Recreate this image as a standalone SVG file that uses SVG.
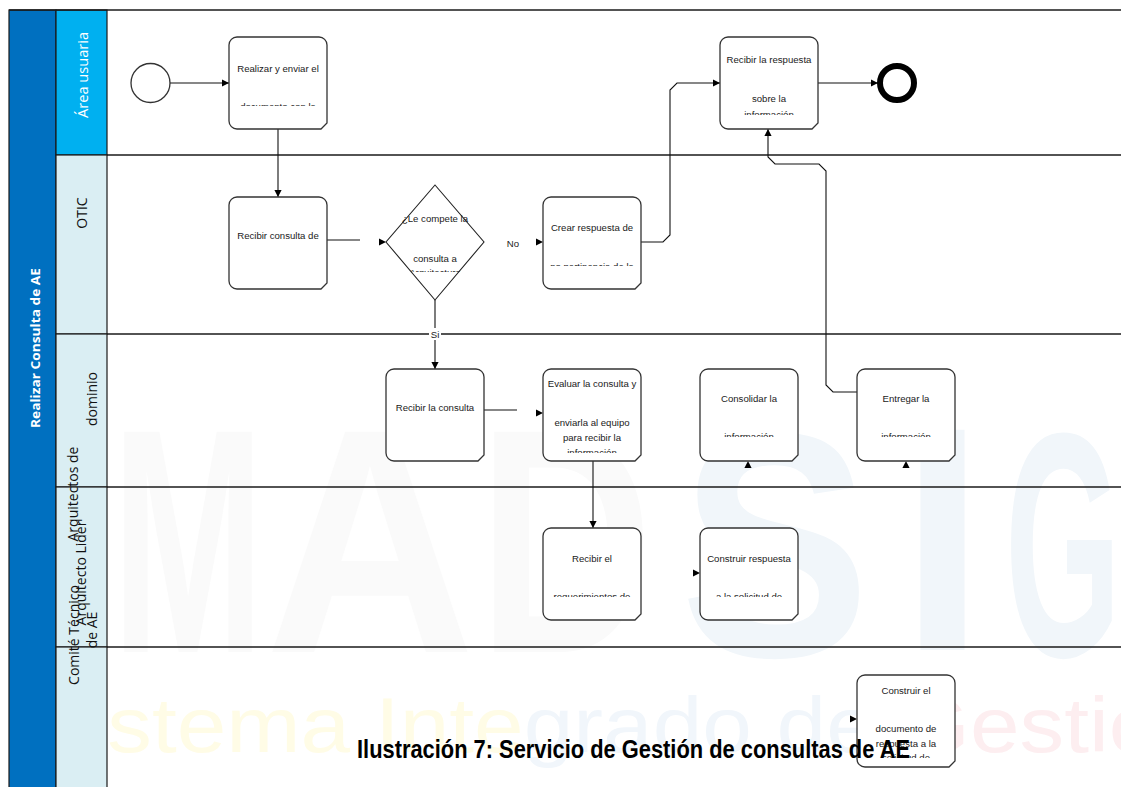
<svg xmlns="http://www.w3.org/2000/svg" xmlns:xlink="http://www.w3.org/1999/xlink" width="1121" height="787" viewBox="0 0 1121 787">
<style>
.lane-line{stroke:#1a1a1a;stroke-width:1.5;fill:none}
.conn{stroke:#111;stroke-width:1.1;fill:none}
.box{fill:#fff;stroke:#333;stroke-width:1.3}
.t{font-family:"Liberation Sans",Arial,sans-serif;font-size:9.6px;fill:#1a1a1a;text-anchor:middle}
.lbl{font-family:"Open Sans","Noto Sans",sans-serif;font-size:14px;text-anchor:middle;fill:#111}
.wm{font-family:"Liberation Sans",Arial,sans-serif;font-weight:bold}
.wm2{font-family:"Liberation Sans",Arial,sans-serif}
.ah{fill:#000}
</style>
<defs>
<path id="task" d="M8,0 H90 A8,8 0 0 1 98,8 V86 L92,92 H8 A8,8 0 0 1 0,84 V8 A8,8 0 0 1 8,0 Z"/>
<path id="ahead" d="M-7,-3.6 L0,0 L-7,3.6 Z"/>
<marker id="arr" markerWidth="8" markerHeight="8" refX="7" refY="3.6" orient="auto" markerUnits="userSpaceOnUse">
<path d="M0,0 L7,3.6 L0,7.2 Z" fill="#000"/>
</marker>
<clipPath id="c1"><rect x="229" y="37" width="98" height="69"/></clipPath>
<clipPath id="c3"><rect x="543" y="197" width="98" height="69"/></clipPath>
<clipPath id="c4"><rect x="720" y="37" width="98" height="78"/></clipPath>
<clipPath id="cd"><rect x="370" y="185" width="130" height="87"/></clipPath>
<clipPath id="c6"><rect x="543" y="369" width="98" height="84"/></clipPath>
<clipPath id="c7"><rect x="543" y="528" width="98" height="69"/></clipPath>
<clipPath id="c8"><rect x="700" y="528" width="98" height="69"/></clipPath>
<clipPath id="c9"><rect x="700" y="369" width="98" height="68"/></clipPath>
<clipPath id="c10"><rect x="857" y="369" width="98" height="68"/></clipPath>
<clipPath id="c11"><rect x="857" y="675" width="98" height="83"/></clipPath>
<clipPath id="cpage"><rect x="0" y="0" width="1121" height="787"/></clipPath>
</defs>
<rect x="0" y="0" width="1121" height="787" fill="#fff"/>

<g id="watermark" clip-path="url(#cpage)">
<text class="wm" x="112" y="652" font-size="320" fill="#FAFAFA" textLength="152" lengthAdjust="spacingAndGlyphs">M</text>
<text class="wm" x="265" y="652" font-size="320" fill="#FAFAFA" textLength="210" lengthAdjust="spacingAndGlyphs">A</text>
<text class="wm" x="478" y="652" font-size="320" fill="#FAFAFA" textLength="175" lengthAdjust="spacingAndGlyphs">D</text>
<text class="wm" x="680" y="656" font-size="320" fill="#F1F6FA" textLength="190" lengthAdjust="spacingAndGlyphs">S</text>
<text class="wm" x="900" y="650" font-size="320" fill="#F1F6FA" textLength="85" lengthAdjust="spacingAndGlyphs">I</text>
<text class="wm" x="1005" y="656" font-size="320" fill="#F1F6FA" textLength="116" lengthAdjust="spacingAndGlyphs">G</text>
<text class="wm2" x="28" y="752" font-size="78" textLength="1180" lengthAdjust="spacingAndGlyphs"><tspan fill="#FFFCE6">Sistema Inte</tspan><tspan fill="#F1F6FB">grado de </tspan><tspan fill="#FDEEF0">Gestión</tspan></text>
</g>

<g id="pool">
<rect x="9" y="10" width="47" height="790" fill="#0070C0" stroke="#1a1a1a" stroke-width="1.2"/>
<rect x="56" y="10" width="51" height="145" fill="#00B0F0" stroke="#1a1a1a" stroke-width="1.2"/>
<rect x="56" y="155" width="51" height="179" fill="#DAEEF3" stroke="#1a1a1a" stroke-width="1.2"/>
<rect x="56" y="334" width="51" height="153" fill="#DAEEF3" stroke="#1a1a1a" stroke-width="1.2"/>
<rect x="56" y="487" width="51" height="160" fill="#DAEEF3" stroke="#1a1a1a" stroke-width="1.2"/>
<rect x="56" y="647" width="51" height="150" fill="#DAEEF3" stroke="#1a1a1a" stroke-width="1.2"/>
<line class="lane-line" x1="9" y1="10" x2="1121" y2="10"/>
<line class="lane-line" x1="107" y1="155" x2="1121" y2="155"/>
<line class="lane-line" x1="107" y1="334" x2="1121" y2="334"/>
<line class="lane-line" x1="107" y1="487" x2="1121" y2="487"/>
<line class="lane-line" x1="107" y1="647" x2="1121" y2="647"/>
<text transform="translate(39.5,348) rotate(-90)" font-family="'Open Sans','Noto Sans',sans-serif" font-weight="bold" font-size="13.2" fill="#fff" text-anchor="middle" textLength="160" lengthAdjust="spacingAndGlyphs">Realizar Consulta de AE</text>
<text class="lbl" transform="translate(88,75) rotate(-90)" style="fill:#fff;font-size:14.6px">Área usuaria</text>
<text class="lbl" transform="translate(87,213) rotate(-90)">OTIC</text>
<text class="lbl" transform="translate(97,399) rotate(-90)">dominio</text>
<text class="lbl" transform="translate(78,494) rotate(-90)">Arquitectos de</text>
<text class="lbl" transform="translate(86,573) rotate(-90)">Arquitecto Lider</text>
<text class="lbl" transform="translate(79,635) rotate(-90)">Comité Técnico</text>
<text class="lbl" transform="translate(97,630) rotate(-90)">de AE</text>
</g>

<g id="connectors">
<path class="conn" d="M170,83 H229" marker-end="url(#arr)"/>
<path class="conn" d="M278,129 V197" marker-end="url(#arr)"/>
<path class="conn" d="M327,240 H360"/>
<use href="#ahead" class="ah" transform="translate(386,242)"/>
<use href="#ahead" class="ah" transform="translate(543,242)"/>
<path class="conn" d="M640,242 H663 L670,235 V90 L677,83 H720" marker-end="url(#arr)"/>
<path class="conn" d="M818,83 H878" marker-end="url(#arr)"/>
<path class="conn" d="M435,300 V369" marker-end="url(#arr)"/>
<rect x="429" y="328" width="12" height="12" fill="#fff"/>
<text class="t" x="435" y="337.5" font-size="9">Si</text>
<text class="t" x="513" y="246.5">No</text>
<path class="conn" d="M484,410 H517"/>
<use href="#ahead" class="ah" transform="translate(543,413)"/>
<path class="conn" d="M593,460 V528" marker-end="url(#arr)"/>
<use href="#ahead" class="ah" transform="translate(700,573)"/>
<use href="#ahead" class="ah" transform="translate(748,461) rotate(-90)"/>
<use href="#ahead" class="ah" transform="translate(906,461) rotate(-90)"/>
<path class="conn" d="M857,392 H833 L826,385 V171 L819,164 H775 L768,157 V129" marker-end="url(#arr)"/>
<use href="#ahead" class="ah" transform="translate(857,719)"/>
</g>

<g id="start"><ellipse cx="150.5" cy="83" rx="19.5" ry="19.5" class="box"/></g>
<g id="end"><circle cx="897" cy="83" r="17" fill="#fff" stroke="#000" stroke-width="6"/></g>

<g id="n1"><use href="#task" x="229" y="37" class="box"/>
<g clip-path="url(#c1)"><text class="t" x="278" y="71.5">Realizar y enviar el</text><text class="t" x="278" y="110">documento con la</text></g></g>

<g id="n2"><use href="#task" x="229" y="197" class="box"/>
<text class="t" x="278" y="238.5">Recibir consulta de</text></g>

<g id="n3"><path d="M435,185 L484,242 L435,300 L386,242 Z" class="box" style="stroke:#222;stroke-width:1.1"/>
<g clip-path="url(#cd)"><text class="t" x="435" y="222">¿Le compete la</text><text class="t" x="435" y="262">consulta a</text><text class="t" x="435" y="276">Arquitectura</text></g></g>

<g id="n4"><use href="#task" x="543" y="197" class="box"/>
<g clip-path="url(#c3)"><text class="t" x="592" y="231">Crear respuesta de</text><text class="t" x="592" y="270">no pertinencia de la</text></g></g>

<g id="n5"><use href="#task" x="720" y="37" class="box"/>
<g clip-path="url(#c4)"><text class="t" x="769" y="62.5">Recibir la respuesta</text><text class="t" x="769" y="102">sobre la</text><text class="t" x="769" y="118">información</text></g></g>

<g id="n6"><use href="#task" x="386" y="369" class="box"/>
<text class="t" x="435" y="411">Recibir la consulta</text></g>

<g id="n7"><use href="#task" x="543" y="369" class="box"/>
<g clip-path="url(#c6)"><text class="t" x="592" y="387">Evaluar la consulta y</text><text class="t" x="592" y="426">enviarla al equipo</text><text class="t" x="592" y="441">para recibir la</text><text class="t" x="592" y="456">información</text></g></g>

<g id="n8"><use href="#task" x="700" y="369" class="box"/>
<g clip-path="url(#c9)"><text class="t" x="749" y="402">Consolidar la</text><text class="t" x="749" y="440">información</text></g></g>

<g id="n9"><use href="#task" x="857" y="369" class="box"/>
<g clip-path="url(#c10)"><text class="t" x="906" y="402">Entregar la</text><text class="t" x="906" y="440">información</text></g></g>

<g id="n10"><use href="#task" x="543" y="528" class="box"/>
<g clip-path="url(#c7)"><text class="t" x="592" y="562">Recibir el</text><text class="t" x="592" y="600">requerimientos de</text></g></g>

<g id="n11"><use href="#task" x="700" y="528" class="box"/>
<g clip-path="url(#c8)"><text class="t" x="749" y="562">Construir respuesta</text><text class="t" x="749" y="600">a la solicitud de</text></g></g>

<g id="n12"><use href="#task" x="857" y="675" class="box"/>
<g clip-path="url(#c11)"><text class="t" x="906" y="694">Construir el</text><text class="t" x="906" y="732">documento de</text><text class="t" x="906" y="747">respuesta a la</text><text class="t" x="906" y="761">solicitud de</text></g></g>

<text id="caption" x="357" y="758" font-family="'Liberation Sans',Arial,sans-serif" font-weight="bold" font-size="25" fill="#000" textLength="553" lengthAdjust="spacingAndGlyphs">Ilustración 7: Servicio de Gestión de consultas de AE</text>
</svg>
